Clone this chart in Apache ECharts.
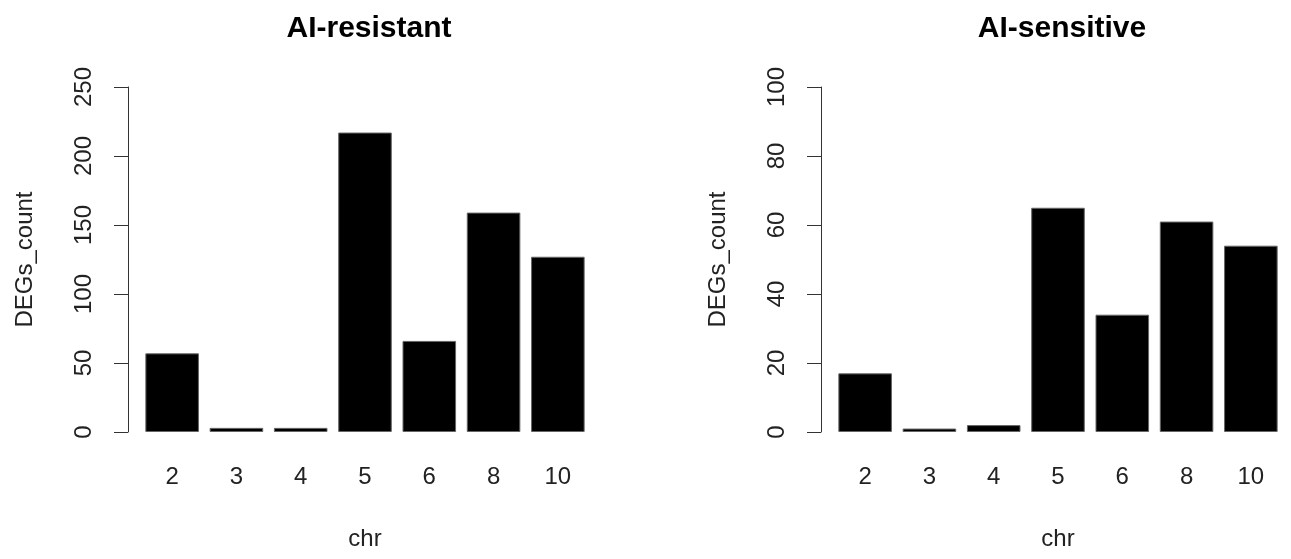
<!DOCTYPE html>
<html>
<head>
<meta charset="utf-8">
<script src="https://cdn.jsdelivr.net/npm/echarts@6/dist/echarts.min.js"></script>
<style>
html, body { margin: 0; padding: 0; background: #fff; }
#main { width: 1291px; height: 559px; }
</style>
</head>
<body>
<div id="main"></div>
<script>
// chromosome names under the bars
const chr = ['2', '3', '4', '5', '6', '8', '10'];
// DEG counts
const resistantCount = [57, 3, 3, 217, 66, 159, 127];
const sensitiveCount = [17, 1, 2, 65, 34, 61, 54];
const titles = ['AI-resistant', 'AI-sensitive'];
const yMax = [250, 100];
const yStep = [50, 20];

const font = '"Liberation Sans", Arial, sans-serif';
const ink = '#222';
const labelSize = 24;

function xAxisFor(idx) {
    return {
        type: 'category',
        gridIndex: idx,
        data: chr,
        boundaryGap: true,
        axisLine: { show: false },
        axisTick: { show: false },
        axisLabel: { margin: 33, fontSize: labelSize, color: ink, fontFamily: font },
        name: 'chr',
        nameLocation: 'middle',
        nameGap: 95,
        nameTextStyle: { fontSize: labelSize, color: ink, fontFamily: font }
    };
}

function yAxisFor(idx) {
    return {
        type: 'value',
        gridIndex: idx,
        min: 0,
        max: yMax[idx],
        interval: yStep[idx],
        offset: 12,
        splitLine: { show: false },
        axisLine: { show: true, lineStyle: { color: '#333', width: 1 } },
        axisTick: { show: true, length: 14, lineStyle: { color: '#333', width: 1 } },
        axisLabel: { rotate: 90, margin: 32, fontSize: labelSize, color: ink, fontFamily: font },
        name: 'DEGs_count',
        nameLocation: 'middle',
        nameRotate: 90,
        nameGap: 91,
        nameTextStyle: { fontSize: labelSize, color: ink, fontFamily: font }
    };
}

const barStyle = { color: '#000', borderColor: '#666', borderWidth: 1 };

const chart = echarts.init(document.getElementById('main'));
const option = {
    animation: false,
    backgroundColor: '#fff',
    title: [
        {
            text: titles[0], left: 364, top: 9, textAlign: 'center',
            textStyle: { fontSize: 30, fontWeight: 'bold', color: '#000', fontFamily: font }
        },
        {
            text: titles[1], left: 1057, top: 9, textAlign: 'center',
            textStyle: { fontSize: 30, fontWeight: 'bold', color: '#000', fontFamily: font }
        }
    ],
    grid: [
        { left: 140, width: 450, top: 87, bottom: 127 },
        { left: 833, width: 450, top: 87, bottom: 127 }
    ],
    xAxis: [xAxisFor(0), xAxisFor(1)],
    yAxis: [yAxisFor(0), yAxisFor(1)],
    series: [
        {
            type: 'bar', xAxisIndex: 0, yAxisIndex: 0,
            data: resistantCount, barCategoryGap: '16.67%', itemStyle: barStyle
        },
        {
            type: 'bar', xAxisIndex: 1, yAxisIndex: 1,
            data: sensitiveCount, barCategoryGap: '16.67%', itemStyle: barStyle
        }
    ]
};
chart.setOption(option);
</script>
</body>
</html>
